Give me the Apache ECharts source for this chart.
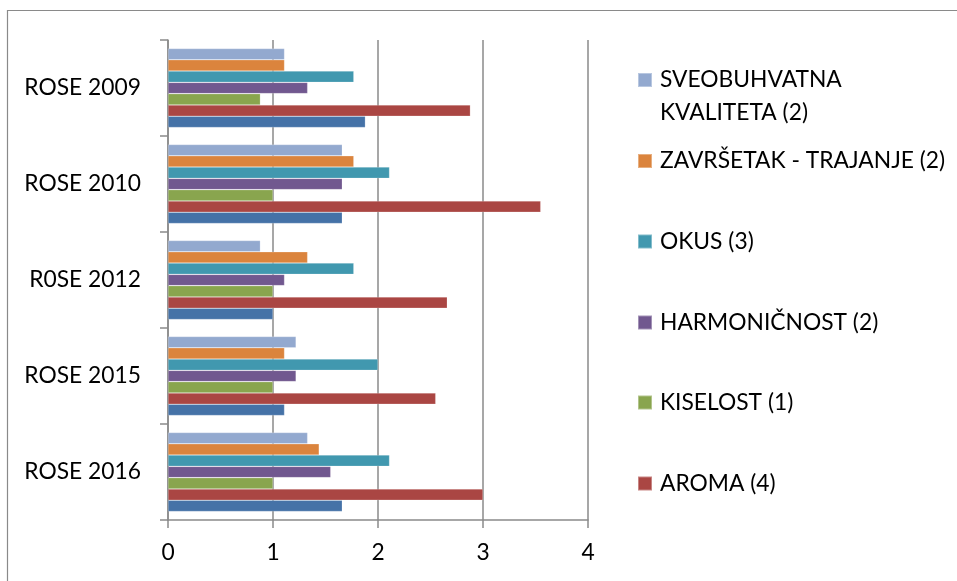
<!DOCTYPE html>
<html>
<head>
<meta charset="utf-8">
<script src="https://cdn.jsdelivr.net/npm/echarts@6/dist/echarts.min.js"></script>
<style>
html,body{margin:0;padding:0;background:#fff;}
#chart{width:957px;height:581px;}
</style>
</head>
<body>
<div id="chart"></div>
<script>
// Categories listed bottom-to-top
var categories = ['ROSE 2016', 'ROSE 2015', 'R0SE 2012', 'ROSE 2010', 'ROSE 2009'];

// Series listed top-to-bottom within each category
var seriesNames = ['SVEOBUHVATNA\nKVALITETA (2)', 'ZAVRŠETAK - TRAJANJE (2)', 'OKUS (3)', 'HARMONIČNOST (2)', 'KISELOST (1)', 'AROMA (4)', 'IZGLED'];

var sveobuhvatna = [1.33, 1.22, 0.88, 1.66, 1.11];
var zavrsetak    = [1.44, 1.11, 1.33, 1.77, 1.11];
var okus         = [2.11, 2.00, 1.77, 2.11, 1.77];
var harmonicnost = [1.55, 1.22, 1.11, 1.66, 1.33];
var kiselost     = [1.00, 1.00, 1.00, 1.00, 0.88];
var aroma        = [3.00, 2.55, 2.66, 3.55, 2.88];
var izgled       = [1.66, 1.11, 1.00, 1.66, 1.88];

var xTicks = [0, 1, 2, 3, 4];

var seriesData = [sveobuhvatna, zavrsetak, okus, harmonicnost, kiselost, aroma, izgled];
var colors = ['#93A9CF', '#DB843D', '#4198AF', '#71588F', '#89A54E', '#AA4643', '#4572A7'];

var FONT = 'Lato';
var FS = 22.8;
var AXIS = '#8a8a8a';

var chart = echarts.init(document.getElementById('chart'), null, {renderer: 'canvas'});

var series = seriesData.map(function (d, i) {
  return {
    name: seriesNames[i],
    type: 'bar',
    data: d,
    barGap: '0%',
    barCategoryGap: '17.7%',
    itemStyle: {color: colors[i], borderColor: 'rgba(255,255,255,0.35)', borderWidth: 0.6},
    emphasis: {disabled: true},
    animation: false
  };
});

// legend entries (top to bottom) with icon centre y
var legendCentres = [80, 161, 241.5, 322.5, 402.5, 483.5];
var LH = 33;
var legends = [0, 1, 2, 3, 4, 5].map(function (si, k) {
  var twoLine = seriesNames[si].indexOf('\n') >= 0;
  var h = twoLine ? LH * 3 : LH;
  return {
    data: [seriesNames[si]],
    left: 637,
    top: legendCentres[k] - h / 2,
    padding: 0,
    itemWidth: 14,
    itemHeight: 14,
    icon: 'rect',
    selectedMode: false,
    formatter: function (n) { return twoLine ? ' \n' + n : n; },
    textStyle: {
      fontFamily: FONT,
      fontSize: FS,
      color: '#000',
      lineHeight: LH,
      padding: [0, 0, 0, 3]
    }
  };
});

chart.setOption({
  animation: false,
  color: colors,
  grid: {left: 168, top: 40, width: 420, height: 480, containLabel: false},
  legend: legends,
  xAxis: {
    type: 'value',
    min: 0,
    max: 4,
    interval: 1,
    axisLine: {show: true, lineStyle: {color: AXIS, width: 1.5}},
    axisTick: {show: true, length: 8, lineStyle: {color: AXIS, width: 1.5}},
    splitLine: {show: true, lineStyle: {color: AXIS, width: 1.5}},
    axisLabel: {
      margin: 21.5,
      fontFamily: FONT,
      fontSize: FS,
      color: '#000',
      formatter: function (v) { return xTicks.indexOf(v) >= 0 ? String(v) : ''; }
    }
  },
  yAxis: {
    type: 'category',
    data: categories,
    axisLine: {show: true, lineStyle: {color: AXIS, width: 1.5}},
    axisTick: {show: true, length: 8, lineStyle: {color: AXIS, width: 1.5}},
    splitLine: {show: false},
    axisLabel: {
      margin: 27,
      fontFamily: FONT,
      fontSize: FS,
      color: '#000'
    }
  },
  graphic: [{
    type: 'rect',
    silent: true,
    shape: {x: 7.5, y: 10.5, width: 1200, height: 1200},
    style: {fill: 'none', stroke: '#8a8a8a', lineWidth: 1.2}
  }],
  series: series
});
</script>
</body>
</html>
